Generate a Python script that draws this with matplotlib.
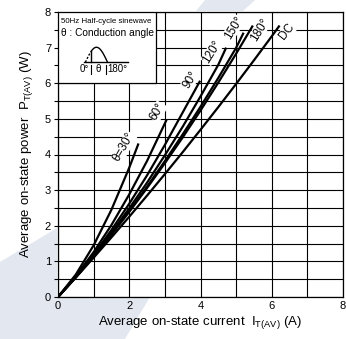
import numpy as np
import matplotlib.pyplot as plt
from matplotlib.patches import Polygon, Rectangle

plt.rcParams['font.family'] = ['Liberation Sans', 'DejaVu Sans']
plt.rcParams['mathtext.fontset'] = 'custom'
plt.rcParams['mathtext.rm'] = 'Liberation Sans'

# average on-state current (A) / power (W) per conduction angle
i_30 = [0, 0.5, 1.0, 1.5, 2.0, 2.26]
p_30 = [0, 0.63, 1.45, 2.45, 3.63, 4.31]

i_60 = [0, 0.5, 1.0, 1.5, 2.0, 2.5, 3.05]
p_60 = [0, 0.585, 1.26, 2.02, 2.88, 3.82, 4.98]

i_90 = [0, 0.5, 1.0, 1.5, 2.0, 2.5, 3.0, 3.5, 3.99]
p_90 = [0, 0.57, 1.195, 1.88, 2.62, 3.415, 4.27, 5.18, 6.07]

i_120 = [0, 0.5, 1.0, 1.5, 2.0, 2.5, 3.0, 3.5, 4.0, 4.5, 4.72]
p_120 = [0, 0.56, 1.16, 1.805, 2.49, 3.21, 3.98, 4.78, 5.63, 6.52, 7.0]

i_150 = [0, 0.5, 1.0, 1.5, 2.0, 2.5, 3.0, 3.5, 4.0, 4.5, 5.0, 5.21]
p_150 = [0, 0.556, 1.145, 1.765, 2.415, 3.1, 3.815, 4.565, 5.34, 6.15, 6.995, 7.42]

i_180 = [0, 0.5, 1.0, 1.5, 2.0, 2.5, 3.0, 3.5, 4.0, 4.5, 5.0, 5.47]
p_180 = [0, 0.555, 1.138, 1.75, 2.39, 3.06, 3.756, 4.48, 5.236, 6.02, 6.83, 7.62]

i_dc = [0, 0.5, 1.0, 1.5, 2.0, 2.5, 3.0, 3.5, 4.0, 4.5, 5.0, 5.5, 6.0, 6.22]
p_dc = [0, 0.546, 1.104, 1.673, 2.254, 2.847, 3.451, 4.066, 4.694, 5.332, 5.982, 6.644, 7.318, 7.62]

curves = [(i_30, p_30), (i_60, p_60), (i_90, p_90), (i_120, p_120),
          (i_150, p_150), (i_180, p_180), (i_dc, p_dc)]

# curve labels: text, x, y, rotation
labels = [('θ=30°', 1.85, 4.2, 60), ('60°', 2.8, 5.2, 60), ('90°', 3.72, 6.1, 58),
          ('120°', 4.33, 6.88, 58), ('150°', 4.93, 7.55, 58),
          ('180°', 5.67, 7.5, 58), ('DC', 6.43, 7.44, 52)]

fig = plt.figure(figsize=(3.46, 3.39), dpi=100)
ax = fig.add_axes([58 / 346, 42 / 339, 285 / 346, 285 / 339])
ax.set_zorder(2)

# faint background watermark (pixel coords, origin bottom-left)
wm = '#e2e7f0'
fig.patches.append(Polygon([(0, 77), (57, 111), (57, 42), (150, 42), (125, 0), (0, 0)],
                           closed=True, transform=None, facecolor=wm,
                           edgecolor='none', zorder=0.5))
fig.patches.append(Polygon([(205, 339), (255, 339), (243, 328), (196, 328)],
                           closed=True, transform=None, facecolor=wm,
                           edgecolor='none', zorder=0.5))

ax.set_xlim(0, 8)
ax.set_ylim(0, 8)
ax.set_xticks(np.arange(0, 9, 2))
ax.set_xticks(np.arange(0, 9, 1), minor=True)
ax.set_yticks(np.arange(0, 9, 1))
ax.set_yticks(np.arange(0, 8.5, 0.5), minor=True)
ax.grid(True, which='both', color='black', linewidth=0.8)
ax.tick_params(axis='x', which='both', length=0, labelsize=8, pad=3)
ax.tick_params(axis='y', which='both', length=3, width=0.8, labelsize=8, pad=2)
for s in ax.spines.values():
    s.set_linewidth(0.9)

for xs, ys in curves:
    ax.plot(xs, ys, color='black', linewidth=1.6, solid_capstyle='butt', zorder=3)

for txt, x, y, rot in labels:
    ax.text(x, y, txt, rotation=rot, ha='center', va='center', fontsize=8.5,
            zorder=4, bbox=dict(facecolor='white', edgecolor='none', pad=0.3))

ax.set_xlabel(r'Average on-state current  $\mathregular{I_{T(AV)}}$ (A)', fontsize=9.5, labelpad=2)
ax.set_ylabel(r'Average on-state power  $\mathregular{P_{T(AV)}}$ (W)', fontsize=9.5, labelpad=7)

# inset: waveform description
ax.add_patch(Rectangle((0, 6.0), 2.76, 2.0, facecolor='white', edgecolor='black',
                       linewidth=0.9, zorder=5))
ax.text(0.09, 7.72, '50Hz Half-cycle sinewave', fontsize=5.7, va='center', zorder=6)
ax.text(0.09, 7.41, 'θ : Conduction angle', fontsize=7.3, va='center', zorder=6)
ax.plot([0.74, 1.96], [6.59, 6.59], color='black', linewidth=1.0, zorder=6)
t_full = np.linspace(0, np.pi, 60)
xs_w = 0.77 + t_full / np.pi * 0.62
ys_w = 6.59 + 0.42 * np.sin(t_full)
on = xs_w >= 0.93
ax.plot(xs_w[on], ys_w[on], color='black', linewidth=1.0, zorder=6)
ax.plot(xs_w[~on], ys_w[~on], color='black', linewidth=1.0, linestyle=(0, (1.5, 1.2)), zorder=6)
ax.plot([0.93, 0.93], [6.59, ys_w[on][0]], color='black', linewidth=1.0, zorder=6)
ax.plot([0.93, 0.93], [6.27, 6.52], color='black', linewidth=0.8, zorder=6)
ax.plot([1.35, 1.35], [6.27, 6.52], color='black', linewidth=0.8, zorder=6)
ax.text(0.73, 6.39, '0°', fontsize=7, ha='center', va='center', zorder=6)
ax.text(1.14, 6.39, 'θ', fontsize=7, ha='center', va='center', zorder=6)
ax.text(1.38, 6.39, '180°', fontsize=7, ha='left', va='center', zorder=6)

fig.savefig('out.png', dpi=100, facecolor='white')
